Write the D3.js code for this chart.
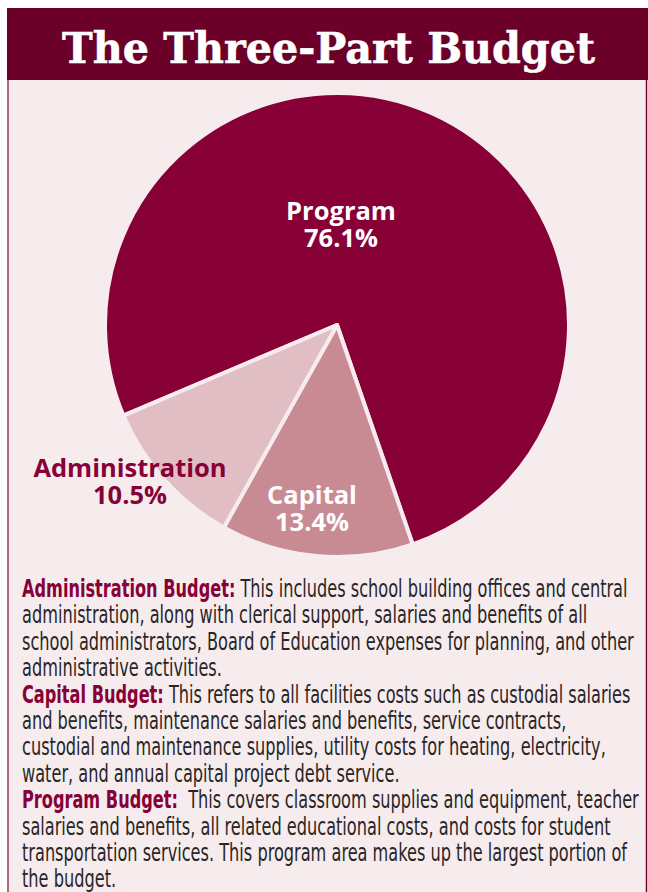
<!DOCTYPE html>
<html>
<head>
<meta charset="utf-8">
<script src="https://cdn.jsdelivr.net/npm/d3@7"></script>
<style>
  html, body { margin: 0; padding: 0; background: #ffffff; }
  svg { display: block; }
  text { white-space: pre; }
</style>
</head>
<body>
<script>
// ---- data ----
const title = "The Three-Part Budget";
const categories = ["Program", "Capital", "Administration"];
const values = [76.1, 13.4, 10.5];
const valueLabels = ["76.1%", "13.4%", "10.5%"];
const sliceColors = ["#870036", "#c98b93", "#e0bec3"];

const bodyLines = [
  [0, "Administration Budget:", " This includes school building offices and central"],
  [null, "", "administration, along with clerical support, salaries and benefits of all"],
  [null, "", "school administrators, Board of Education expenses for planning, and other"],
  [null, "", "administrative activities."],
  [1, "Capital Budget:", " This refers to all facilities costs such as custodial salaries"],
  [null, "", "and benefits, maintenance salaries and benefits, service contracts,"],
  [null, "", "custodial and maintenance supplies, utility costs for heating, electricity,"],
  [null, "", "water, and annual capital project debt service."],
  [2, "Program Budget:", "  This covers classroom supplies and equipment, teacher"],
  [null, "", "salaries and benefits, all related educational costs, and costs for student"],
  [null, "", "transportation services. This program area makes up the largest portion of"],
  [null, "", "the budget."]
];

// ---- layout ----
const W = 648, H = 892;
const bg = "#f6ecee";
const dark = "#870036";
const cx = 337, cy = 325, R = 232;
const labelLayout = {
  Program: { x: 341, y: 220, fill: "#ffffff" },
  Capital: { x: 312, y: 504, fill: "#ffffff" },
  Administration: { x: 130, y: 477, fill: dark }
};

const svg = d3.select("body").append("svg")
  .attr("width", W).attr("height", H);

// frame
svg.append("rect").attr("x", 0).attr("y", 0).attr("width", W).attr("height", H).attr("fill", "#ffffff");
svg.append("rect").attr("x", 8).attr("y", 80).attr("width", W - 10).attr("height", H - 80).attr("fill", bg);
svg.append("line").attr("x1", 8).attr("x2", 8).attr("y1", 80).attr("y2", H)
  .attr("stroke", "#9a3a5a").attr("stroke-width", 1.5);
svg.append("line").attr("x1", 646.5).attr("x2", 646.5).attr("y1", 80).attr("y2", H)
  .attr("stroke", "#6b0028").attr("stroke-width", 1.5);

// header band
svg.append("rect").attr("x", 7).attr("y", 8).attr("width", W - 7).attr("height", 72).attr("fill", "#6b0028");
svg.append("text")
  .attr("x", 62).attr("y", 63)
  .attr("font-family", "'DejaVu Serif', serif")
  .attr("font-weight", "bold")
  .attr("font-size", 43)
  .attr("fill", "#ffffff")
  .attr("stroke", "#ffffff")
  .attr("stroke-width", 0.6)
  .attr("textLength", 533)
  .attr("lengthAdjust", "spacingAndGlyphs")
  .text(title);

// pie
const data = categories.map((c, i) => ({ name: c, value: values[i], label: valueLabels[i], color: sliceColors[i] }));
const pie = d3.pie().sort(null).value(d => d.value)
  .startAngle(247 * Math.PI / 180)
  .endAngle(247 * Math.PI / 180 + 2 * Math.PI);
const arc = d3.arc().innerRadius(0).outerRadius(R);

const g = svg.append("g").attr("transform", `translate(${cx},${cy})`);
g.selectAll("path").data(pie(data)).join("path")
  .attr("d", arc)
  .attr("fill", d => d.data.color)
  .attr("stroke", bg)
  .attr("stroke-width", 4)
  .attr("stroke-linejoin", "round");

// labels (two lines in one text element)
const lab = svg.append("g")
  .attr("font-family", "'Open Sans', 'Noto Sans', sans-serif")
  .attr("font-weight", "bold")
  .attr("font-size", 25.5)
  .attr("text-anchor", "middle");
data.forEach(d => {
  const L = labelLayout[d.name];
  const t = lab.append("text").attr("fill", L.fill);
  t.append("tspan").attr("x", L.x).attr("y", L.y).text(d.name);
  t.append("tspan").attr("x", L.x).attr("y", L.y + 27).text(d.label);
});

// body text
const body = svg.append("g")
  .attr("font-family", "'Liberation Sans Narrow', 'DejaVu Sans Condensed', 'Roboto Condensed', sans-serif")
  .attr("font-size", 24)
  .attr("fill", "#2a2526");
const x0 = 22, y0 = 597, lh = 26.4, targetW = 606;
const nodes = bodyLines.map((ln) => {
  const t = body.append("text").attr("x", 0).attr("y", 0);
  if (ln[0] !== null) {
    t.append("tspan").attr("font-weight", "bold").attr("fill", dark).text(ln[1]);
  }
  t.append("tspan").text(ln[2]);
  return t;
});
const w0 = nodes[0].node().getComputedTextLength();
const s = targetW / w0;
nodes.forEach((t, i) => {
  t.attr("transform", `translate(${x0},${y0 + i * lh}) scale(${s},1)`);
});
</script>
</body>
</html>
